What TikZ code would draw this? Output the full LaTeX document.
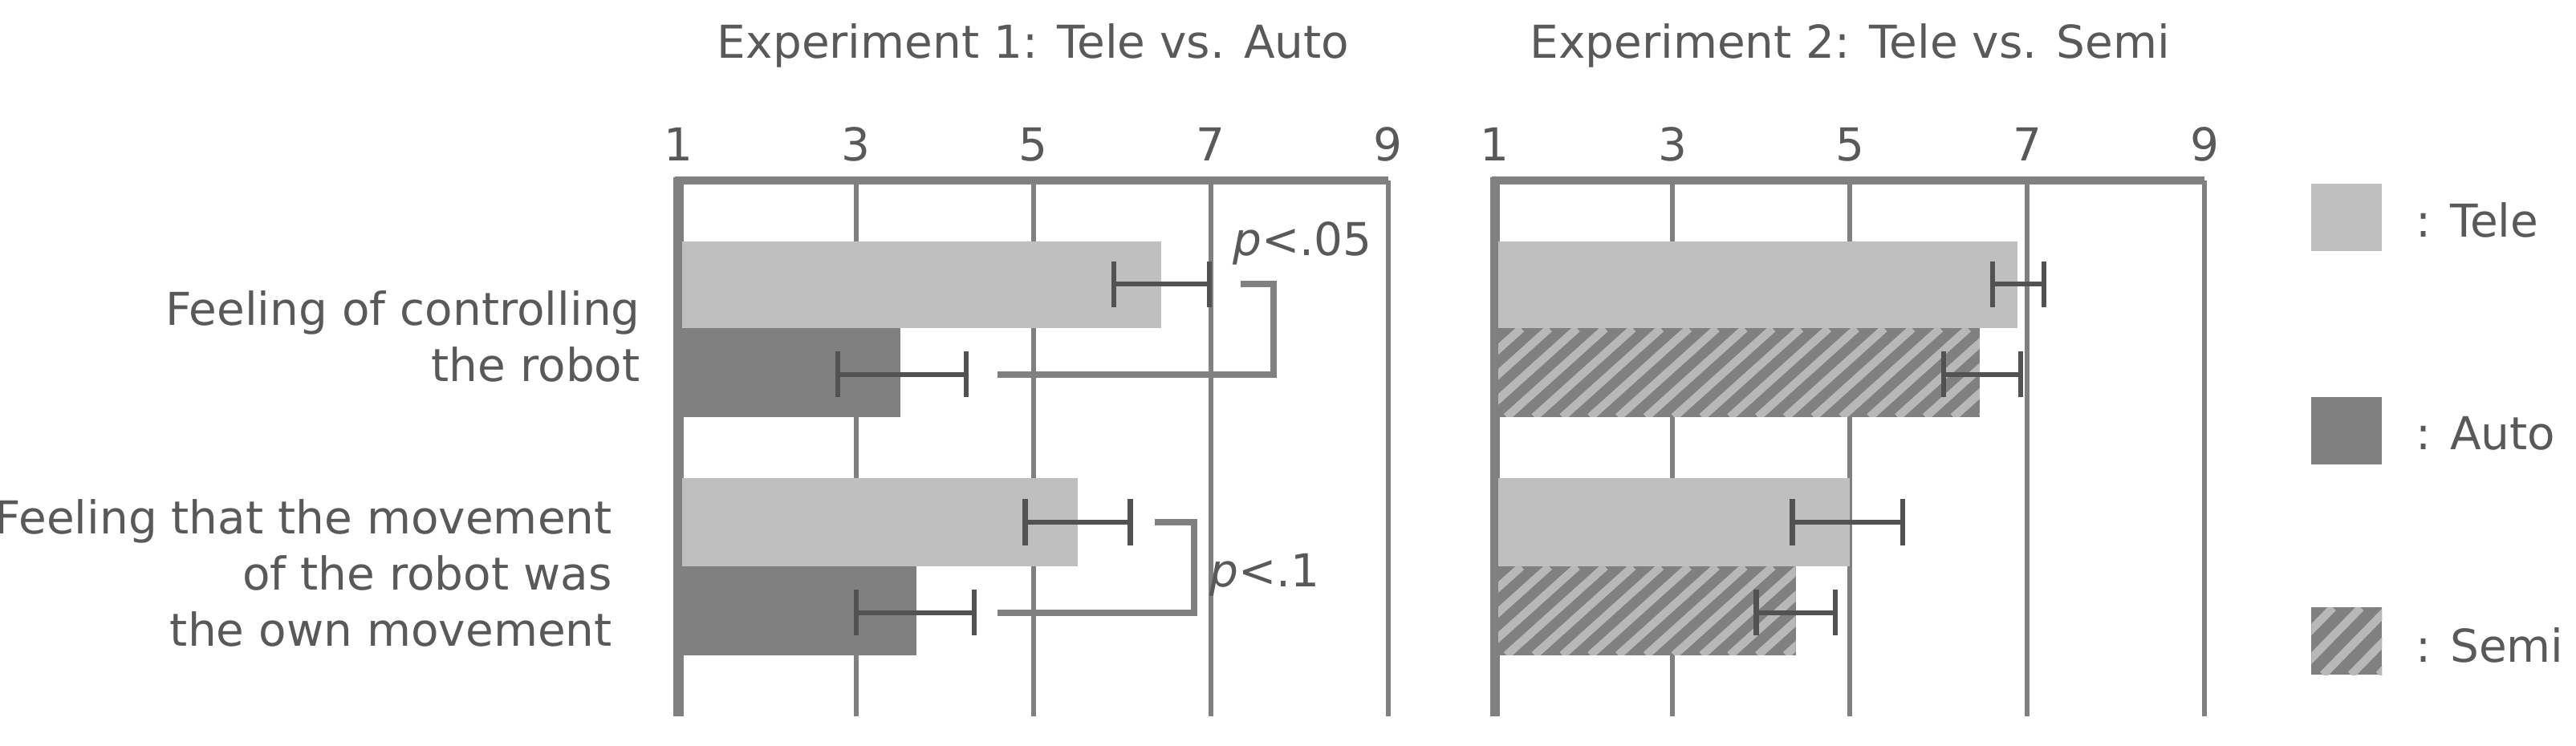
\documentclass[tikz,border=0pt]{standalone}
\usepackage{fontspec}
\setmainfont{DejaVu Sans}
\begin{document}
\begin{tikzpicture}[x=0.5pt,y=-0.5pt,
  txt/.style={text=black!65,font=\fontsize{13.8}{17}\selectfont,inner sep=0},
  grid/.style={draw=black!50,line width=1.5pt},
  tele/.style={fill=black!25,draw=none},
  auto/.style={fill=black!50,draw=none},
  err/.style={draw=black!68,line width=1.5pt},
  brk/.style={draw=black!50,line width=2pt}]
\useasboundingbox (0,0) rectangle (1568,454);
\definecolor{hl}{gray}{0.72}
\foreach \ox/\title in {413/{Experiment 1: Tele vs. Auto},910/{Experiment 2: Tele vs. Semi}}{
  \node[txt] (t\ox) at (\ox+216,28) {\title};
  \foreach \v in {1,3,5,7,9}{
    \node[txt] (k\ox\v) at ({\ox+54*(\v-1)},88) {\v};
  }
  \foreach \v in {3,5,7,9}{
    \draw[grid] ({\ox+54*(\v-1)},110) -- ({\ox+54*(\v-1)},436);
  }
  \draw[draw=black!50,line width=2.5pt] (\ox-2,110) -- (\ox+432,110);
  \draw[draw=black!50,line width=3pt] (\ox,108) -- (\ox,436);
}
\fill[tele] (415,147) rectangle (707,200);
\fill[auto] (415,200) rectangle (548,254);
\fill[tele] (415,291) rectangle (656,345);
\fill[auto] (415,345) rectangle (558,399);
\fill[tele] (912,147) rectangle (1228,200);
\fill[tele] (912,291) rectangle (1126,345);
\foreach \a/\b/\c in {200/254/1205,345/399/1093}{
  \fill[auto] (912,\a) rectangle (\c,\b);
  \begin{scope}
    \clip (912,\a) rectangle (\c,\b);
    \foreach \k in {-68,-51,...,340}{
      \draw[hl,line width=2.5pt] (900+\k,\b) -- (960+\k,\a);
    }
  \end{scope}
}
\foreach \l/\r/\y in {678/736/173,510/588/228,624/688/318,521/593/373,1213/1244/173,1183/1230/228,1091/1158/318,1069/1117/373}{
  \draw[err] (\l,\y) -- (\r,\y);
  \draw[err] (\l,\y-14) -- (\l,\y+14);
  \draw[err] (\r,\y-14) -- (\r,\y+14);
}
\draw[brk] (607,228) -- (775,228) -- (775,173) -- (755,173);
\draw[brk] (607,373) -- (727,373) -- (727,318) -- (703,318);
\node[txt,anchor=west] (p1) at (750,148) {\textit{p}<.05};
\node[txt,anchor=west] (p2) at (736,350) {\textit{p}<.1};
\node[txt,anchor=east,align=right] (l1) at (390,205) {Feeling of controlling\\the robot};
\node[txt,anchor=east,align=right] (l2) at (373,349) {Feeling that the movement\\of the robot was\\the own movement};
\fill[tele] (1407,112) rectangle (1450,153);
\fill[auto] (1407,242) rectangle (1450,283);
\fill[auto] (1407,370) rectangle (1450,411);
\begin{scope}
  \clip (1407,370) rectangle (1450,411);
  \foreach \k in {-34,-17,...,102}{\draw[hl,line width=2.5pt] (1380+\k,411) -- (1420+\k,370);}
\end{scope}
\node[txt,anchor=west] (g1) at (1470,134) {: Tele};
\node[txt,anchor=west] (g2) at (1470,264) {: Auto};
\node[txt,anchor=west] (g3) at (1470,393) {: Semi};
\end{tikzpicture}
\end{document}
